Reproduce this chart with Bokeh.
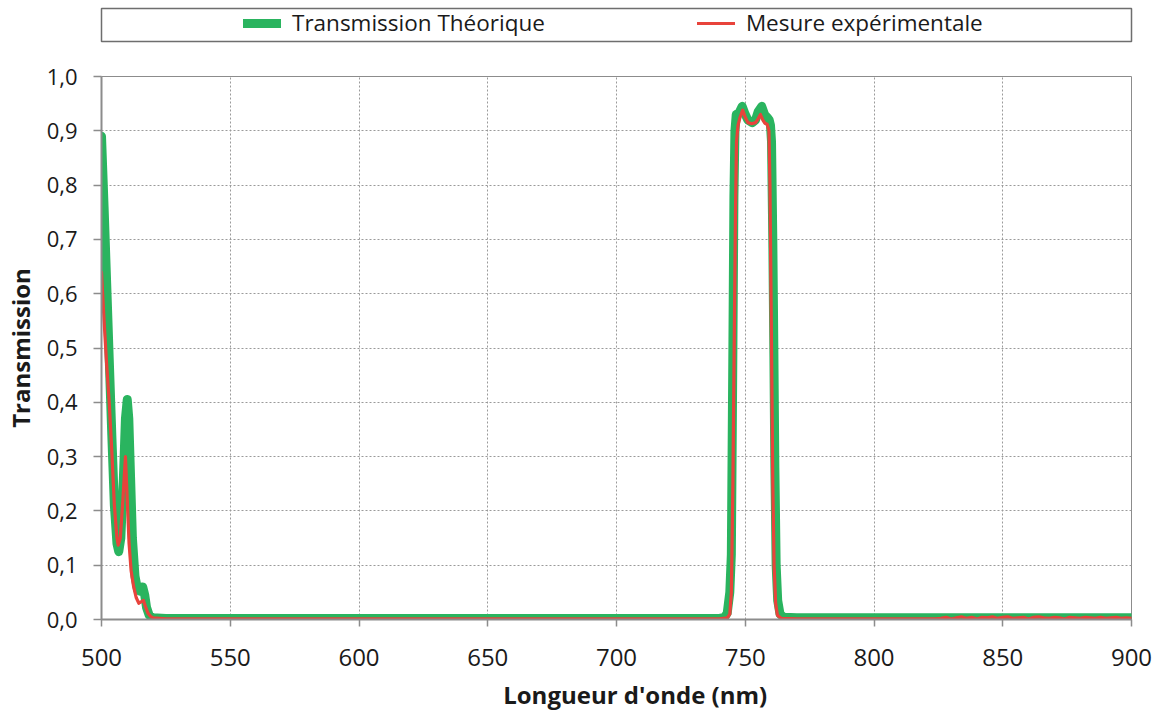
from bokeh.plotting import figure
from bokeh.models import Range1d, FixedTicker, Legend, LegendItem
from bokeh.layouts import column
from bokeh.embed import file_html
from bokeh.resources import INLINE

# ---- data -------------------------------------------------------------
wl_theo = [500, 501, 502, 503, 504, 505, 506, 506.7, 507.5, 508.5, 509.3, 510,
           510.6, 511.3, 512, 513, 514, 515, 516, 516.8, 517.5, 518.5, 520, 525,
           550, 600, 650, 700, 740, 742, 743, 744, 744.6, 745.2, 745.6, 746,
           746.5, 747.5, 748.8, 750, 751, 752.7, 754, 755, 756.4, 757.5, 758.5,
           759.3, 759.8, 760.2, 760.7, 761.1, 761.5, 762, 762.6, 763.5, 765, 770,
           800, 850, 900]
t_theo = [0.89, 0.76, 0.62, 0.48, 0.34, 0.21, 0.14, 0.125, 0.15, 0.26, 0.37, 0.405,
          0.37, 0.26, 0.15, 0.08, 0.055, 0.052, 0.06, 0.045, 0.022, 0.008, 0.003, 0.002,
          0.002, 0.002, 0.002, 0.002, 0.002, 0.004, 0.012, 0.05, 0.12, 0.5, 0.78, 0.9,
          0.93, 0.932, 0.945, 0.93, 0.92, 0.915, 0.92, 0.935, 0.945, 0.93, 0.925,
          0.92, 0.91, 0.88, 0.7, 0.5, 0.28, 0.1, 0.035, 0.01, 0.004, 0.003,
          0.003, 0.003, 0.003]

wl_mes = [500, 501, 502, 503, 504, 505, 506, 506.5, 507.3, 508.3, 509.3, 510,
          510.7, 511.5, 512.5, 513.5, 514.5, 515.5, 516.3, 517, 518, 519, 520, 525,
          550, 600, 650, 700, 740, 743, 744, 744.6, 745.2, 745.7, 746.2, 746.6,
          747.2, 748, 749, 750, 751, 752.5, 754, 755, 755.9, 756.8, 757.6, 758.5,
          759.2, 759.6, 760.2, 760.7, 761.2, 761.8, 762.5, 764, 770, 800, 824,
          826, 828, 830, 832, 834, 836, 838, 840, 842, 844, 846, 848, 850, 852,
          854, 856, 858, 860, 862, 864, 866, 868, 870, 872, 874, 876, 878, 880,
          882, 884, 886, 888, 890, 892, 894, 896, 898, 900]
t_mes = [0.64, 0.55, 0.47, 0.40, 0.31, 0.21, 0.15, 0.137, 0.15, 0.22, 0.30, 0.22,
         0.14, 0.09, 0.06, 0.04, 0.03, 0.033, 0.035, 0.025, 0.012, 0.006, 0.003, 0.001,
         0.001, 0.001, 0.001, 0.001, 0.001, 0.003, 0.01, 0.05, 0.25, 0.5, 0.75, 0.88,
         0.91, 0.925, 0.938, 0.925, 0.915, 0.913, 0.915, 0.922, 0.93, 0.92, 0.914, 0.912,
         0.9, 0.8, 0.5, 0.25, 0.1, 0.03, 0.008, 0.002, 0.001, 0.001, 0.001,
         0.002, 0.004, 0.001, 0.003, 0.005, 0.002, 0.004, 0.001, 0.004, 0.003, 0.005,
         0.002, 0.004, 0.005, 0.002, 0.003, 0.004, 0.001, 0.004, 0.005, 0.003, 0.002,
         0.004, 0.003, 0.001, 0.004, 0.003, 0.002, 0.004, 0.003, 0.002, 0.004, 0.002,
         0.003, 0.004, 0.002, 0.003, 0.002]

x_ticks = [500, 550, 600, 650, 700, 750, 800, 850, 900]
y_ticks = [0.0, 0.1, 0.2, 0.3, 0.4, 0.5, 0.6, 0.7, 0.8, 0.9, 1.0]
y_tick_labels = ["0,0", "0,1", "0,2", "0,3", "0,4", "0,5", "0,6", "0,7", "0,8", "0,9", "1,0"]

labels = ["Transmission Théorique", "Mesure expérimentale"]
GREEN = "#2ab45f"
RED = "#e8433b"
FONT = "Open Sans"
W = 1155

# ---- legend strip -------------------------------------------------------
# (the strip's range excludes the data, so only the legend swatches show)
leg = figure(width=W, height=48, x_range=Range1d(0, 1), y_range=Range1d(0, 1),
             output_backend="svg", toolbar_location=None,
             x_axis_location=None, y_axis_location=None,
             min_border_left=99, min_border_right=W - 1133, min_border_top=8, min_border_bottom=7)
leg.grid.visible = False
leg.outline_line_color = "#6e6e6e"
leg.outline_line_width = 1.5
leg.border_fill_color = "white"
lg = leg.line(wl_theo, t_theo, line_color=GREEN, line_width=9, line_cap="round")
lr = leg.line(wl_mes, t_mes, line_color=RED, line_width=3.2, line_cap="round")
legend = Legend(items=[LegendItem(label=labels[0], renderers=[lg]),
                       LegendItem(label=labels[1], renderers=[lr])],
                location=(142, 3), orientation="horizontal",
                glyph_width=38, glyph_height=20, label_standoff=11,
                label_width=250, spacing=152, padding=0, margin=0,
                border_line_alpha=0, background_fill_alpha=0,
                label_text_font=FONT, label_text_font_size="22.5px",
                label_text_color="#1a1a1a")
leg.add_layout(legend)

# ---- main figure --------------------------------------------------------
p = figure(width=W, height=665, x_range=Range1d(500, 900), y_range=Range1d(0, 1),
           output_backend="svg", toolbar_location=None,
           min_border_left=101, min_border_right=W - 1131, min_border_top=28, min_border_bottom=94)
p.background_fill_color = "white"
p.border_fill_color = "white"
p.outline_line_color = "#8c8c8c"
p.outline_line_width = 1

p.line(wl_theo, t_theo, line_color=GREEN, line_width=9, line_cap="round", line_join="round")
p.line(wl_mes, t_mes, line_color=RED, line_width=3.2, line_cap="round", line_join="round")

p.xaxis.ticker = FixedTicker(ticks=x_ticks)
p.yaxis.ticker = FixedTicker(ticks=y_ticks)
p.yaxis.major_label_overrides = {t: lab for t, lab in zip(y_ticks, y_tick_labels)}
for ax in (p.xaxis[0], p.yaxis[0]):
    ax.axis_line_color = "#8c8c8c"
    ax.axis_line_width = 2
    ax.major_tick_line_color = "#8c8c8c"
    ax.major_tick_line_width = 1.5
    ax.major_tick_in = 0
    ax.minor_tick_line_color = None
    ax.major_label_text_font = FONT
    ax.major_label_text_color = "#1a1a1a"
    ax.axis_label_text_font = FONT
    ax.axis_label_text_font_style = "bold"
    ax.axis_label_text_font_size = "24px"
    ax.axis_label_text_color = "#1a1a1a"

p.xaxis.major_tick_out = 7
p.yaxis.major_tick_out = 8
p.xaxis.major_label_text_font_size = "24px"
p.yaxis.major_label_text_font_size = "22px"
p.xaxis.major_label_standoff = 22
p.yaxis.major_label_standoff = 16
p.xaxis.axis_label = "\u00a0\u00a0\u00a0\u00a0\u00a0\u00a0Longueur d'onde (nm)"
p.yaxis.axis_label = "Transmission"
p.xaxis.axis_label_standoff = 9
p.yaxis.axis_label_standoff = 7

p.xgrid.ticker = FixedTicker(ticks=x_ticks)
p.ygrid.ticker = FixedTicker(ticks=y_ticks)
for gr in (p.xgrid[0], p.ygrid[0]):
    gr.grid_line_color = "#9a9a9a"
    gr.grid_line_width = 1
    gr.grid_line_dash = "2 2"

layout = column(leg, p, spacing=0)
open("out.html", "w").write(file_html(layout, INLINE))
